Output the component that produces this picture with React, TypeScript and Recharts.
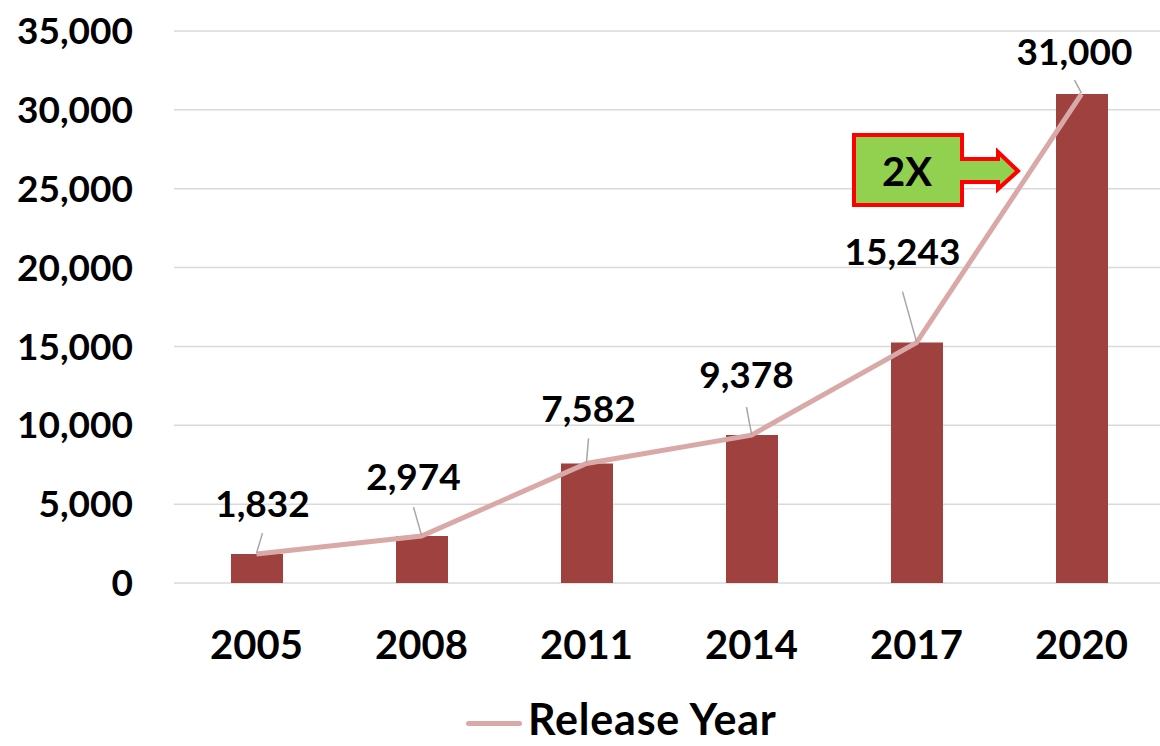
import React from "react";
import {
  ComposedChart, Bar, Line, XAxis, YAxis, CartesianGrid, Legend, LabelList,
} from "recharts";

// release years and counts
const years = ["2005", "2008", "2011", "2014", "2017", "2020"];
const releases = [1832, 2974, 7582, 9378, 15243, 31000];
const yTicks = [0, 5000, 10000, 15000, 20000, 25000, 30000, 35000];

// where each data label sits relative to its point (dx, dy to baseline, leader gap)
const labelNudge = [
  { dx: 6, dy: -37, gap: 16 },
  { dx: -8, dy: -46, gap: 17 },
  { dx: 2, dy: -41, gap: 16 },
  { dx: -5, dy: -47, gap: 19 },
  { dx: -14, dy: -78, gap: 27 },
  { dx: -7, dy: -29, gap: 15 },
];

const data = years.map((year, i) => ({ year, count: releases[i] }));

const FONT = "Lato, 'Open Sans', sans-serif";
const BAR = "#9E413F";
const LINE = "#D9A9A8";
const fmt = (v: number) => v.toLocaleString("en-US");

function PointLabel(props: any) {
  const { x, y, value, index } = props;
  const n = labelNudge[index] || { dx: 0, dy: -40, gap: 16 };
  const tx = x + n.dx;
  const ty = y + n.dy;
  return (
    <g>
      <line x1={tx} y1={ty + n.gap} x2={x} y2={y - 1} stroke="#A6A6A6" strokeWidth={1.5} />
      <text x={tx} y={ty} textAnchor="middle" fontFamily={FONT} fontWeight={700}
        fontSize={37} fill="#000">
        {fmt(value)}
      </text>
    </g>
  );
}

function LegendBox() {
  return (
    <div style={{ position: "relative", height: 50, fontFamily: FONT }}>
      <div style={{
        position: "absolute", left: 466, top: 25, width: 56, height: 5,
        background: LINE, borderRadius: 3,
      }} />
      <div style={{
        position: "absolute", left: 528, top: 8, fontSize: 43, fontWeight: 700,
        letterSpacing: 0.8, lineHeight: "30px", color: "#000", whiteSpace: "nowrap",
      }}>
        Release Year
      </div>
    </div>
  );
}

// the green "2X" callout arrow
function Callout() {
  return (
    <svg width={1160} height={746}
      style={{ position: "absolute", left: 0, top: 0, pointerEvents: "none" }}>
      <path
        d="M854,135 L962,135 L962,159 L998,159 L998,152 L1018,171 L998,189 L998,182 L962,182 L962,205 L854,205 Z"
        fill="#92D050" stroke="#FF0000" strokeWidth={4} strokeLinejoin="miter" />
      <text x={907} y={186} textAnchor="middle" fontFamily={FONT} fontWeight={700}
        fontSize={40} fill="#000">2X</text>
    </svg>
  );
}

export default function App() {
  return (
    <div style={{
      position: "fixed", left: 0, top: 0, width: 1160, height: 746,
      overflow: "hidden", background: "#fff",
    }}>
      <ComposedChart width={1164} height={746} data={data}
        margin={{ top: 31, right: 0, bottom: 0, left: 0 }}>
        <CartesianGrid vertical={false} stroke="#D9D9D9" strokeWidth={1.5} />
        <XAxis dataKey="year" axisLine={false} tickLine={false} tickSize={0}
          tickMargin={48} height={113} interval={0}
          tick={{ fontFamily: FONT, fontWeight: 700, fontSize: 40, fill: "#000" }} />
        <YAxis domain={[0, 35000]} ticks={yTicks} axisLine={false} tickLine={false}
          tickSize={0} tickMargin={41} width={174} tickFormatter={fmt}
          tick={{ fontFamily: FONT, fontWeight: 700, fontSize: 37, fill: "#000" }} />
        <Legend verticalAlign="bottom" content={() => <LegendBox />}
          wrapperStyle={{ left: 0, bottom: 0, width: 1160, height: 50 }} />
        <Bar dataKey="count" fill={BAR} barSize={52} isAnimationActive={false}
          legendType="none" />
        <Line type="linear" dataKey="count" name="Release Year" stroke={LINE}
          strokeWidth={5} dot={false} activeDot={false} isAnimationActive={false}>
          <LabelList dataKey="count" content={<PointLabel />} />
        </Line>
      </ComposedChart>
      <Callout />
    </div>
  );
}
